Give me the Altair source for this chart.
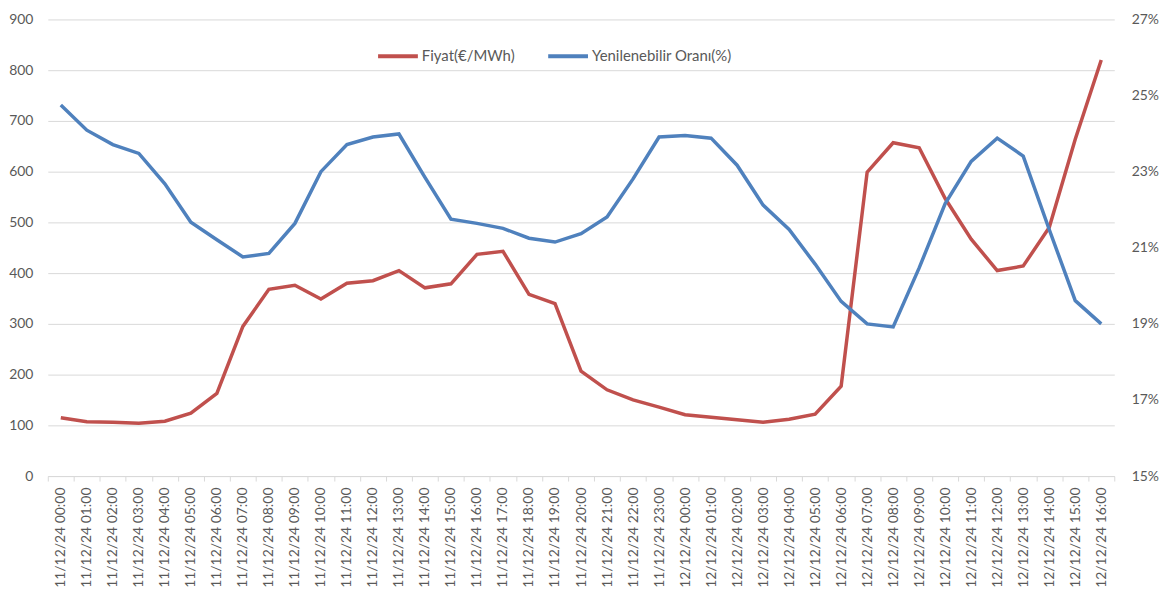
import altair as alt
import pandas as pd

hours_day1 = [f"11/12/24 {h:02d}:00" for h in range(24)]
hours_day2 = [f"12/12/24 {h:02d}:00" for h in range(17)]
times = hours_day1 + hours_day2

fiyat = [115, 107, 106, 104, 108, 124, 163, 295, 368, 376, 349, 380, 385, 405,
         371, 379, 437, 443, 358, 340, 207, 170, 150, 136, 121, 116, 111, 106,
         112, 122, 177, 599, 657, 647, 547, 467, 405, 414, 490, 664, 820]

oran = [24.75, 24.09, 23.71, 23.48, 22.68, 21.67, 21.21, 20.76, 20.85, 21.64,
        23.00, 23.71, 23.91, 23.99, 22.85, 21.75, 21.64, 21.51, 21.25, 21.15,
        21.37, 21.81, 22.81, 23.91, 23.95, 23.88, 23.17, 22.12, 21.48, 20.57,
        19.59, 19.00, 18.92, 20.47, 22.16, 23.27, 23.88, 23.41, 21.48, 19.61,
        19.00]

series_names = ["Fiyat(€/MWh)", "Yenilenebilir Oranı(%)"]
series_colors = ["#C0504D", "#4F81BD"]
left_ticks = list(range(0, 901, 100))
right_ticks = [15, 17, 19, 21, 23, 25, 27]

df = pd.DataFrame({"t": times, "fiyat": fiyat, "oran": oran})
df["s1"] = series_names[0]
df["s2"] = series_names[1]

FONT = "Lato"
LABEL_COLOR = "#595959"
AXIS_FS = 14

xenc = alt.X(
    "t:N", sort=None, bandPosition=0.5,
    scale=alt.Scale(type="band", paddingInner=0, paddingOuter=0),
    axis=alt.Axis(title=None, labelAngle=-90, tickBand="extent",
                  domainColor="#d9d9d9", tickColor="#d9d9d9", tickSize=5,
                  labelColor=LABEL_COLOR, labelFontSize=AXIS_FS, labelFont=FONT,
                  labelPadding=6, grid=False),
)

color_scale = alt.Scale(domain=series_names, range=series_colors)
legend = alt.Legend(
    title=None, orient="none", direction="horizontal", legendX=330, legendY=15,
    symbolType="stroke", symbolStrokeWidth=4, symbolSize=1600,
    labelFont=FONT, labelFontSize=15, labelColor=LABEL_COLOR,
    labelOffset=2, columnPadding=25,
)

red = alt.Chart(df).mark_line(strokeWidth=3.5).encode(
    x=xenc,
    y=alt.Y("fiyat:Q", scale=alt.Scale(domain=[0, 900], nice=False),
            axis=alt.Axis(title=None, values=left_ticks, grid=True,
                          gridColor="#d9d9d9", gridWidth=1, domain=False,
                          ticks=False, labelColor=LABEL_COLOR, labelFontSize=AXIS_FS,
                          labelFont=FONT, labelPadding=15)),
    color=alt.Color("s1:N", scale=color_scale, legend=legend),
)

blue = alt.Chart(df).mark_line(strokeWidth=3.5).encode(
    x=xenc,
    y=alt.Y("oran:Q", scale=alt.Scale(domain=[15, 27], nice=False),
            axis=alt.Axis(title=None, orient="right", values=right_ticks,
                          labelExpr="datum.value + '%'", grid=False,
                          domain=False, ticks=False, labelColor=LABEL_COLOR,
                          labelFontSize=AXIS_FS, labelFont=FONT, labelPadding=17)),
    color=alt.Color("s2:N", scale=color_scale, legend=legend),
)

chart = alt.layer(red, blue).resolve_scale(y="independent").properties(
    width=1072, height=459,
    autosize=alt.AutoSizeParams(type="none"),
    padding={"left": 40, "top": 10, "right": 50, "bottom": 110},
).configure_view(stroke=None)

chart.save("out.html", embed_options={"renderer": "svg", "actions": False})
